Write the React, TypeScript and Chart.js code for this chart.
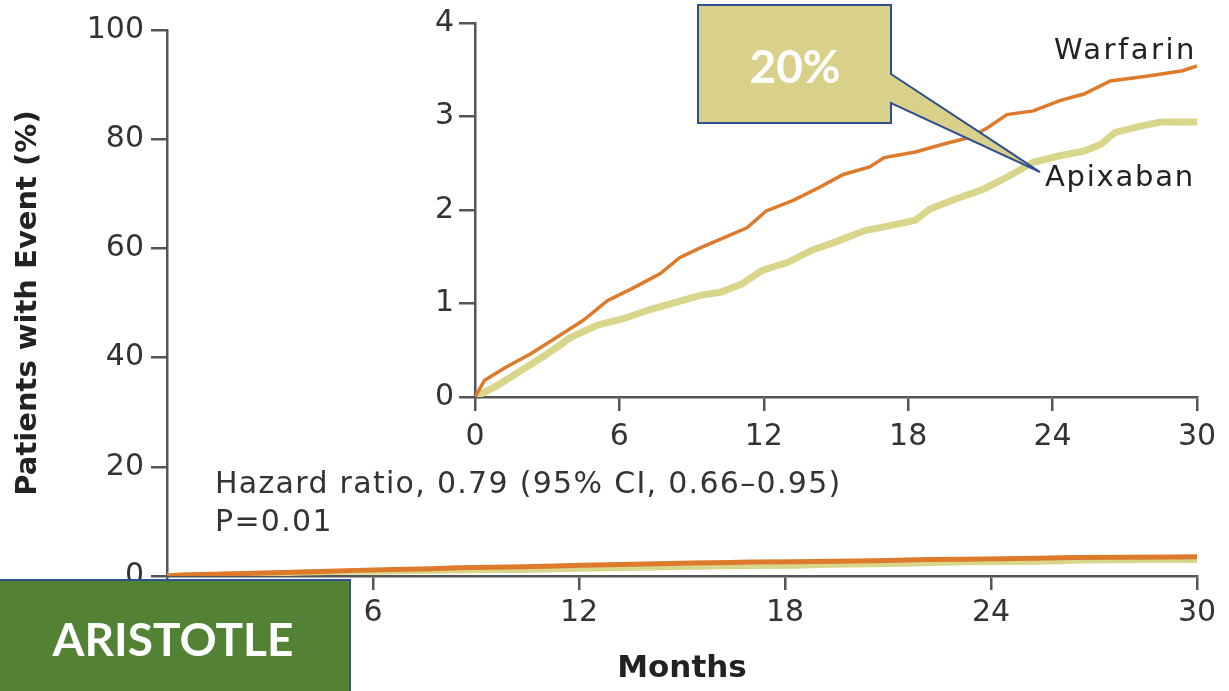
import React, { useEffect, useRef } from "react";
import { Chart, registerables } from "chart.js";
Chart.register(...registerables);

const warfarinMonths = [0, 0.4, 1.3, 2.3, 3.4, 4.5, 5.5, 6.6, 7.7, 8.5, 9.4, 10.4, 11.3, 12.1, 13.2, 14.3, 15.3, 16.4, 17.0, 18.3, 19.4, 20.6, 21.3, 22.1, 23.2, 24.3, 25.3, 26.4, 27.9, 29.4, 30];
const warfarinValues = [0, 0.18, 0.32, 0.46, 0.64, 0.82, 1.03, 1.17, 1.32, 1.49, 1.6, 1.71, 1.81, 1.99, 2.1, 2.24, 2.38, 2.46, 2.56, 2.62, 2.7, 2.78, 2.88, 3.02, 3.06, 3.17, 3.24, 3.38, 3.43, 3.49, 3.54];
const apixabanMonths = [0, 0.85, 1.9, 3.0, 4.0, 5.1, 6.2, 7.2, 8.3, 9.4, 10.2, 11.1, 11.9, 13.0, 14.0, 15.1, 16.2, 17.2, 18.3, 18.9, 20.0, 21.1, 22.1, 23.2, 24.3, 25.3, 26.0, 26.6, 27.7, 28.5, 30];
const apixabanValues = [0, 0.11, 0.28, 0.46, 0.64, 0.77, 0.84, 0.93, 1.01, 1.09, 1.12, 1.21, 1.35, 1.44, 1.57, 1.67, 1.78, 1.83, 1.89, 2.01, 2.12, 2.22, 2.35, 2.51, 2.58, 2.63, 2.7, 2.83, 2.9, 2.94, 2.94];
const monthTicks = [0, 6, 12, 18, 24, 30];
const mainYTicks = [0, 20, 40, 60, 80, 100];
const insetYTicks = [0, 1, 2, 3, 4];

const FONT = "'DejaVu Sans', sans-serif";
const AXIS = "#555";
const TXT = "#333";
const ORANGE = "#dd7a2c";
const APIX = "#d9d68b";

function pts(xs: number[], ys: number[]) {
  return xs.map((x, i) => ({ x, y: ys[i] }));
}

function makeConfig(opts: {
  yMax: number; yTicks: number[]; yWidth: number; xHeight: number; padTop: number; padRight: number;
  tickFont: number; warfW: number; apixW: number; titles: boolean; xTickLen: number; xPad: number; yTickLen: number; yPad: number;
}): any {
  return {
    type: "line",
    data: {
      datasets: [
        { label: "Warfarin", data: pts(warfarinMonths, warfarinValues), borderColor: ORANGE, borderWidth: opts.warfW, pointRadius: 0, tension: 0, fill: false },
        { label: "Apixaban", data: pts(apixabanMonths, apixabanValues), borderColor: APIX, borderWidth: opts.apixW, pointRadius: 0, tension: 0, fill: false },
      ],
    },
    options: {
      responsive: false,
      animation: false,
      layout: { padding: { left: 0, right: opts.padRight, top: opts.padTop, bottom: 0 } },
      plugins: { legend: { display: false }, tooltip: { enabled: false } },
      scales: {
        x: {
          type: "linear", min: 0, max: 30,
          afterBuildTicks: (s: any) => { s.ticks = monthTicks.map((v) => ({ value: v })); },
          afterFit: (s: any) => { s.height = opts.xHeight; },
          grid: { drawOnChartArea: false, drawTicks: true, tickLength: opts.xTickLen, color: AXIS, lineWidth: 2.5 },
          border: { color: AXIS, width: 2.5 },
          ticks: { font: { family: FONT, size: opts.tickFont }, color: TXT, padding: opts.xPad, maxRotation: 0, autoSkip: false },
          title: { display: opts.titles, text: "Months", font: { family: FONT, size: 31, weight: "bold" }, color: "#222", padding: { top: 0, bottom: 3 } },
        },
        y: {
          type: "linear", min: 0, max: opts.yMax,
          afterBuildTicks: (s: any) => { s.ticks = opts.yTicks.map((v) => ({ value: v })); },
          afterFit: (s: any) => { s.width = opts.yWidth; },
          grid: { drawOnChartArea: false, drawTicks: true, tickLength: opts.yTickLen, color: AXIS, lineWidth: 2.5 },
          border: { color: AXIS, width: 2.5 },
          ticks: { font: { family: FONT, size: opts.tickFont }, color: TXT, padding: opts.yPad, autoSkip: false },
          title: { display: opts.titles, text: "Patients with Event (%)", font: { family: FONT, size: 29, weight: "bold" }, color: "#222", padding: { top: 11, bottom: 0 } },
        },
      },
    },
  };
}

export default function App() {
  const mainRef = useRef<HTMLCanvasElement>(null);
  const insetRef = useRef<HTMLCanvasElement>(null);

  useEffect(() => {
    document.body.style.margin = "0";
    const main = new Chart(mainRef.current!, makeConfig({
      yMax: 100, yTicks: mainYTicks, yWidth: 167, xHeight: 115, padTop: 30, padRight: 32,
      tickFont: 30, warfW: 5, apixW: 6, titles: true, xTickLen: 14, xPad: 5, yTickLen: 16, yPad: 7,
    }));
    const inset = new Chart(insetRef.current!, makeConfig({
      yMax: 4, yTicks: insetYTicks, yWidth: 95, xHeight: 73, padTop: 22, padRight: 32,
      tickFont: 30, warfW: 3.5, apixW: 7, titles: false, xTickLen: 14, xPad: 8, yTickLen: 16, yPad: 5,
    }));
    return () => { main.destroy(); inset.destroy(); };
  }, []);

  const txt: React.CSSProperties = { position: "absolute", fontFamily: FONT, color: "#222", whiteSpace: "nowrap", lineHeight: 1 };

  return (
    <div style={{ position: "relative", width: 1229, height: 691, background: "#fff", overflow: "hidden" }}>
      <canvas ref={mainRef} width={1229} height={691} style={{ position: "absolute", left: 0, top: 0, display: "block" }} />
      <canvas ref={insetRef} width={849} height={470} style={{ position: "absolute", left: 380, top: 0, display: "block" }} />
      <div style={{ ...txt, left: 1054, top: 35, fontSize: 29, letterSpacing: 2.5 }}>Warfarin</div>
      <div style={{ ...txt, left: 1045, top: 162, fontSize: 29, letterSpacing: 1.75 }}>Apixaban</div>
      <div style={{ ...txt, left: 215, top: 468, fontSize: 30, letterSpacing: 1.3, color: "#333" }}>Hazard ratio, 0.79 (95% CI, 0.66–0.95)</div>
      <div style={{ ...txt, left: 215, top: 506, fontSize: 30, letterSpacing: 1.3, color: "#333" }}>P=0.01</div>
      <svg width={1229} height={691} style={{ position: "absolute", left: 0, top: 0 }}>
        <path d="M698,5 H891 V74 L1040,172 L891,103 V123 H698 Z" fill="#d9d08a" stroke="#2f4f8f" strokeWidth={2} />
        <text x={795} y={83} textAnchor="middle" fill="#fff" fontFamily="Lato, sans-serif" fontWeight="bold" fontSize={46}>20%</text>
        <rect x={-2} y={580} width={352} height={115} fill="#548235" stroke="#2f528f" strokeWidth={2} />
        <text x={173} y={656} textAnchor="middle" fill="#fff" fontFamily="Lato, sans-serif" fontWeight="bold" fontSize={46}>ARISTOTLE</text>
      </svg>
    </div>
  );
}
